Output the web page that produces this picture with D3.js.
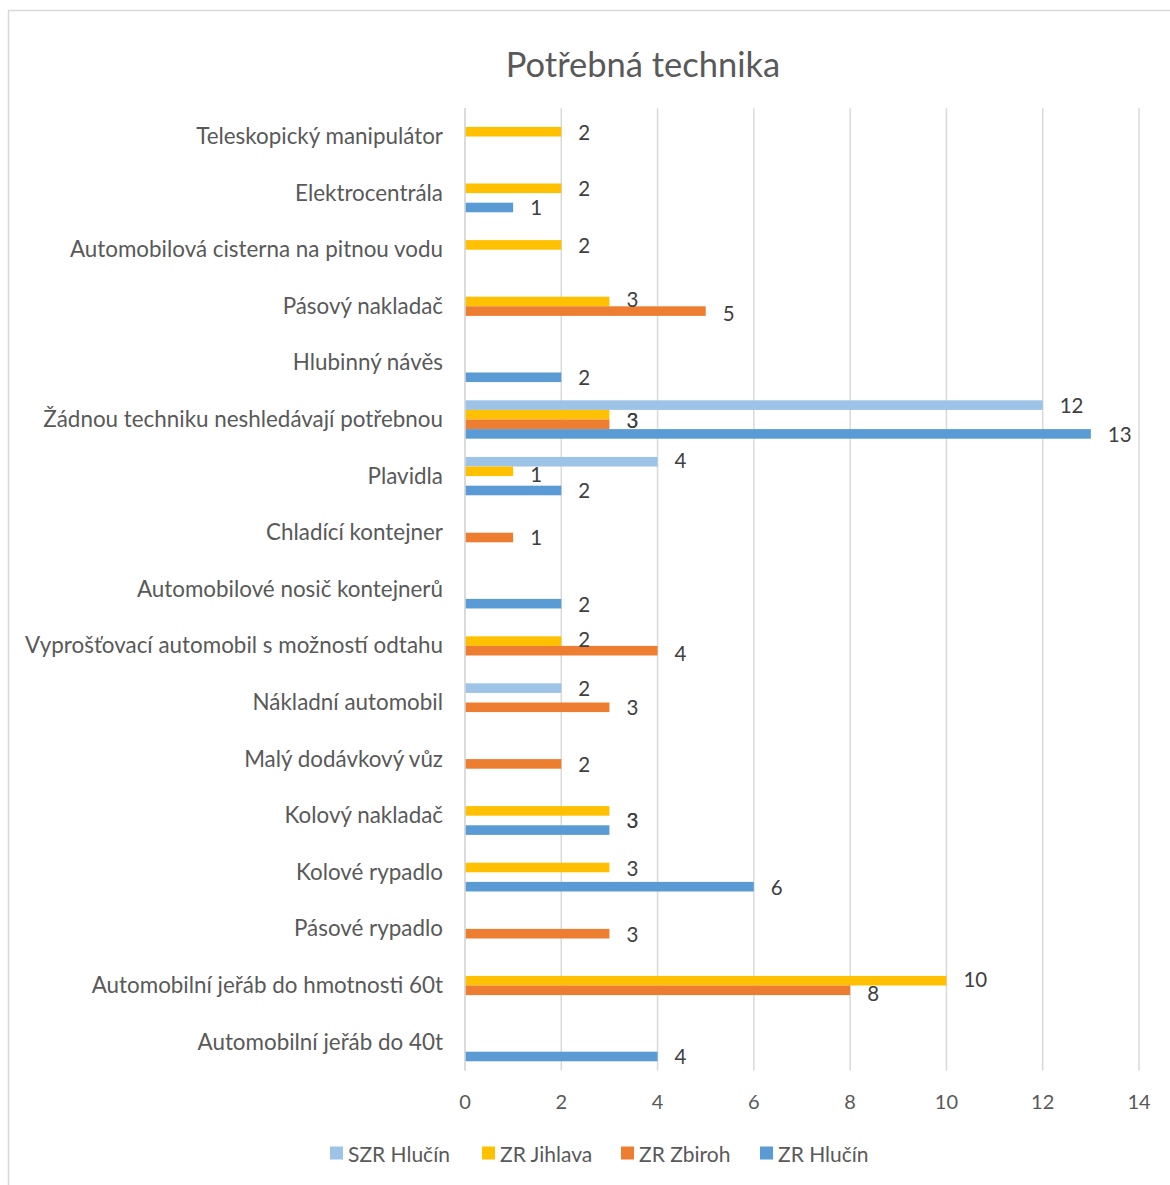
<!DOCTYPE html>
<html>
<head>
<meta charset="utf-8">
<script src="https://cdn.jsdelivr.net/npm/d3@7"></script>
<style>
  html, body { margin: 0; padding: 0; background: #fff; }
  svg { display: block; }
</style>
</head>
<body>
<svg id="chart" width="1170" height="1185"></svg>
<script>
const categories = [
  "Teleskopický manipulátor",
  "Elektrocentrála",
  "Automobilová cisterna na pitnou vodu",
  "Pásový nakladač",
  "Hlubinný návěs",
  "Žádnou techniku neshledávají potřebnou",
  "Plavidla",
  "Chladící kontejner",
  "Automobilové nosič kontejnerů",
  "Vyprošťovací automobil s možností odtahu",
  "Nákladní automobil",
  "Malý dodávkový vůz",
  "Kolový nakladač",
  "Kolové rypadlo",
  "Pásové rypadlo",
  "Automobilní jeřáb do hmotnosti 60t",
  "Automobilní jeřáb do 40t"
];
const seriesNames = ["SZR Hlučín", "ZR Jihlava", "ZR Zbiroh", "ZR Hlučín"];
const szrHlucin = [0, 0, 0, 0, 0, 12, 4, 0, 0, 0, 2, 0, 0, 0, 0, 0, 0];
const zrJihlava = [2, 2, 2, 3, 0, 3, 1, 0, 0, 2, 0, 0, 3, 3, 0, 10, 0];
const zrZbiroh  = [0, 0, 0, 5, 0, 3, 0, 1, 0, 4, 3, 2, 0, 0, 3, 8, 0];
const zrHlucin  = [0, 1, 0, 0, 2, 13, 2, 0, 2, 0, 0, 0, 3, 6, 0, 0, 4];
const xTicks = [0, 2, 4, 6, 8, 10, 12, 14];
const title = "Potřebná technika";

const seriesValues = [szrHlucin, zrJihlava, zrZbiroh, zrHlucin];
const colors = ["#9DC3E6", "#FFC000", "#ED7D31", "#5B9BD5"];

const svg = d3.select("#chart");
const FONT = "Lato, 'Open Sans', sans-serif";

// chart border
svg.append("rect")
  .attr("x", 8.5).attr("y", 10.5)
  .attr("width", 1300).attr("height", 1300)
  .attr("fill", "#fff").attr("stroke", "#D9D9D9").attr("stroke-width", 1.5);

const plot = { left: 465, right: 1139, top: 108.2, bottom: 1070.4 };

const x = d3.scaleLinear().domain([0, 14]).range([plot.left, plot.right]);
const y0 = d3.scaleBand().domain(categories).range([plot.top, plot.bottom]).paddingInner(0).paddingOuter(0);
const y1 = d3.scaleBand().domain(seriesNames).range([0, y0.bandwidth()]).paddingInner(0).paddingOuter(0.95);

// title
svg.append("text")
  .attr("x", 643).attr("y", 63)
  .attr("text-anchor", "middle").attr("dominant-baseline", "central")
  .attr("font-family", FONT).attr("font-size", 34.5).attr("fill", "#595959")
  .text(title);

// gridlines
svg.append("g").selectAll("line").data(xTicks).join("line")
  .attr("x1", d => x(d)).attr("x2", d => x(d))
  .attr("y1", plot.top).attr("y2", plot.bottom)
  .attr("stroke", "#D9D9D9").attr("stroke-width", 1.5);

// x tick labels
svg.append("g").selectAll("text").data(xTicks).join("text")
  .attr("x", d => x(d)).attr("y", 1101)
  .attr("text-anchor", "middle").attr("dominant-baseline", "central")
  .attr("font-family", FONT).attr("font-size", 20).attr("fill", "#595959")
  .text(d => d);

// category labels
svg.append("g").selectAll("text").data(categories).join("text")
  .attr("x", 443).attr("y", d => y0(d) + y0.bandwidth() / 2 - 1)
  .attr("text-anchor", "end").attr("dominant-baseline", "central")
  .attr("font-family", FONT).attr("font-size", 22.4).attr("fill", "#595959")
  .text(d => d);

// bars
const barData = [];
categories.forEach((c, ci) => {
  seriesNames.forEach((s, si) => {
    const v = seriesValues[si][ci];
    if (v > 0) barData.push({ c, s, si, v });
  });
});

svg.append("g").selectAll("rect").data(barData).join("rect")
  .attr("x", x(0))
  .attr("y", d => y0(d.c) + y1(d.s))
  .attr("width", d => x(d.v) - x(0))
  .attr("height", y1.bandwidth())
  .attr("fill", d => colors[d.si]);

// data labels with simple overlap handling
const labels = [];
categories.forEach((c, ci) => {
  const items = barData.filter(d => d.c === c).map(d => ({ ...d, ly: y0(d.c) + y1(d.s) + y1.bandwidth() / 2 }));
  const groups = d3.groups(items, d => d.v);
  const slots = groups.map(([v, arr]) => ({ v, arr, ly: d3.mean(arr, d => d.ly) }));
  slots.sort((a, b) => a.ly - b.ly);
  const minGap = 14;
  for (let iter = 0; iter < 10; iter++) {
    for (let i = 1; i < slots.length; i++) {
      const gap = slots[i].ly - slots[i - 1].ly;
      if (gap < minGap) {
        const push = (minGap - gap) / 2;
        slots[i - 1].ly -= push;
        slots[i].ly += push;
      }
    }
  }
  slots.forEach(sl => sl.arr.forEach(d => labels.push({ v: d.v, ly: sl.ly })));
});

svg.append("g").selectAll("text").data(labels).join("text")
  .attr("x", d => x(d.v) + 17).attr("y", d => d.ly)
  .attr("dominant-baseline", "central")
  .attr("font-family", FONT).attr("font-size", 20.5).attr("fill", "#404040")
  .text(d => d.v);

// category axis line
svg.append("line")
  .attr("x1", x(0)).attr("x2", x(0))
  .attr("y1", plot.top).attr("y2", plot.bottom)
  .attr("stroke", "#D9D9D9").attr("stroke-width", 1.5);

// legend
const legendX = [330, 482, 621, 760];
const legend = svg.append("g").selectAll("g").data(seriesNames).join("g")
  .attr("transform", (d, i) => `translate(${legendX[i]},1153)`);
legend.append("rect").attr("x", 0).attr("y", -6.5).attr("width", 13).attr("height", 13)
  .attr("fill", (d, i) => colors[i]);
legend.append("text").attr("x", 18).attr("y", 0)
  .attr("dominant-baseline", "central")
  .attr("font-family", FONT).attr("font-size", 21).attr("fill", "#595959")
  .text(d => d);
</script>
</body>
</html>
